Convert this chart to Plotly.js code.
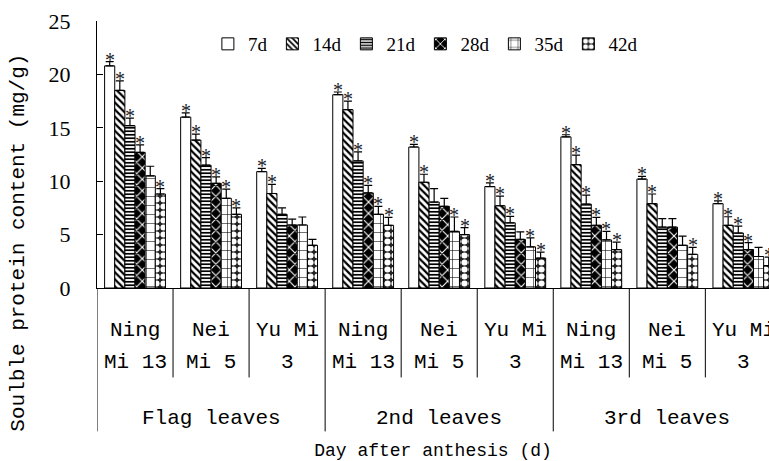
<!DOCTYPE html>
<html>
<head>
<meta charset="utf-8">
<script src="https://cdn.plot.ly/plotly-3.0.1.min.js"></script>
<style>html,body{margin:0;padding:0;background:#fff;}#chart{width:769px;height:461px;}</style>
</head>
<body>
<div id="chart"></div>
<script>
// Groups: leaf position x cultivar
const leafLabels = ['Flag leaves', '2nd leaves', '3rd leaves'];
const cultivarLine1 = ['Ning', 'Nei', 'Yu Mi'];
const cultivarLine2 = ['Mi 13', 'Mi 5', '3'];
const seriesNames = ['7d', '14d', '21d', '28d', '35d', '42d'];

// Soluble protein content (mg/g), 9 groups in order:
// Flag(NM13, NeM5, YM3), 2nd(NM13, NeM5, YM3), 3rd(NM13, NeM5, YM3)
const v7d  = [20.8, 16.0, 10.9, 18.1, 13.2, 9.5, 14.15, 10.2, 7.9];
const v14d = [18.5, 13.85, 8.85, 16.7, 9.9, 7.7, 11.55, 7.9, 5.87];
const v21d = [15.2, 11.5, 6.9, 11.9, 8.05, 6.1, 7.85, 5.7, 5.15];
const v28d = [12.7, 9.8, 5.9, 8.9, 7.65, 4.55, 5.87, 5.7, 3.6];
const v35d = [10.5, 8.4, 5.9, 6.9, 5.3, 3.85, 4.5, 4.0, 2.95];
const v42d = [8.8, 6.9, 4.0, 5.87, 5.0, 2.8, 3.6, 3.15, 2.1];

const e7d  = [0.4, 0.4, 0.3, 0.25, 0.25, 0.35, 0.2, 0.25, 0.25];
const e14d = [0.9, 0.55, 0.85, 0.8, 0.75, 0.9, 0.9, 0.9, 0.8];
const e21d = [0.7, 0.7, 0.6, 0.85, 1.25, 0.6, 0.85, 0.8, 0.65];
const e28d = [0.7, 0.6, 0.55, 0.7, 0.75, 0.7, 0.75, 0.8, 0.65];
const e35d = [0.9, 0.85, 0.75, 0.75, 1.35, 0.85, 0.8, 0.85, 0.85];
const e42d = [0.5, 0.6, 0.55, 0.75, 0.65, 0.55, 0.7, 0.65, 0.8];

// significance marks (1 = asterisk)
const s7d  = [1, 1, 1, 1, 1, 1, 1, 1, 1];
const s14d = [1, 1, 1, 1, 1, 1, 1, 1, 1];
const s21d = [1, 1, 0, 1, 0, 1, 1, 0, 1];
const s28d = [1, 1, 0, 1, 0, 0, 1, 0, 1];
const s35d = [0, 1, 0, 1, 1, 1, 1, 0, 0];
const s42d = [1, 1, 0, 1, 1, 1, 1, 1, 1];

const values = [v7d, v14d, v21d, v28d, v35d, v42d];
const errors = [e7d, e14d, e21d, e28d, e35d, e42d];
const sigs = [s7d, s14d, s21d, s28d, s35d, s42d];

const patterns = [
  null,
  {shape: '\\', fgcolor: '#000', bgcolor: '#fff', size: 5, solidity: 0.45},
  {shape: '-', fgcolor: '#000', bgcolor: '#fff', size: 3.5, solidity: 0.5},
  {shape: 'x', fgcolor: '#fff', bgcolor: '#000', size: 8, solidity: 0.25},
  {shape: '+', fgcolor: '#000', bgcolor: '#fff', size: 9, solidity: 0.12},
  {shape: '.', fgcolor: '#fff', bgcolor: '#222', size: 7, solidity: 0.6}
];

const nG = v7d.length;
const gx = v7d.map((_, i) => i);
const bargap = 0.2;
const bw = (1 - bargap) / seriesNames.length;

const traces = [];
seriesNames.forEach((name, k) => {
  const marker = {color: '#fff', line: {color: '#000', width: 1}};
  if (patterns[k]) marker.pattern = Object.assign({fillmode: 'replace'}, patterns[k]);
  traces.push({
    type: 'bar', name: name, x: gx, y: values[k], marker: marker,
    error_y: {type: 'data', array: errors[k], arrayminus: errors[k].map(() => 0),
      symmetric: false, color: '#000', thickness: 1.2, width: 4},
    hoverinfo: 'y'
  });
});

const shapes = [];
const annotations = [];
// significance asterisks above the error bars
seriesNames.forEach((name, k) => {
  sigs[k].forEach((s, i) => {
    if (s) annotations.push({xref: 'x', yref: 'y', x: gx[i] + (k - 2.5) * bw, y: values[k][i] + errors[k][i],
      text: '*', showarrow: false, yanchor: 'middle', yshift: 2,
      font: {family: 'Liberation Serif', size: 20, color: '#1a1a2a'}});
  });
});

const perLeaf = cultivarLine1.length;
const catFont = {family: 'Liberation Mono', size: 21, color: '#000'};
for (let i = 0; i < nG; i++) {
  const b = gx[i] - 0.5;
  const long = (i % perLeaf === 0);
  shapes.push({type: 'line', xref: 'x', yref: 'paper', x0: b, x1: b, y0: 0, y1: long ? -0.537 : -0.335,
    line: {color: '#000', width: 1}});
  annotations.push({xref: 'x', yref: 'paper', x: gx[i], y: -0.159, text: cultivarLine1[i % perLeaf],
    showarrow: false, yanchor: 'middle', font: catFont});
  annotations.push({xref: 'x', yref: 'paper', x: gx[i], y: -0.279, text: cultivarLine2[i % perLeaf],
    showarrow: false, yanchor: 'middle', font: catFont});
}
leafLabels.forEach((lab, j) => {
  annotations.push({xref: 'x', yref: 'paper', x: gx[j * perLeaf + 1], y: -0.487, text: lab,
    showarrow: false, yanchor: 'middle', font: catFont});
});
// y-axis title (placed lower than the plot centre, as in the reference)
annotations.push({xref: 'paper', yref: 'paper', x: -0.116, y: 0.17, textangle: -90,
  text: 'Soulble protein content (mg/g)', showarrow: false,
  xanchor: 'center', yanchor: 'middle', font: {family: 'Liberation Mono', size: 21, color: '#000'}});

const layout = {
  width: 769, height: 461,
  margin: {l: 97, r: 0, t: 21, b: 173},
  paper_bgcolor: '#fff', plot_bgcolor: '#fff',
  barmode: 'group', bargap: bargap, bargroupgap: 0,
  font: {family: 'Liberation Serif', color: '#000'},
  showlegend: true,
  legend: {orientation: 'h', x: 0.165, y: 0.985, xanchor: 'left', yanchor: 'top',
    font: {family: 'Liberation Serif', size: 19, color: '#000'}, bgcolor: 'rgba(0,0,0,0)',
    traceorder: 'normal'},
  xaxis: {range: [-0.5, 8.337], showticklabels: false, ticks: '', showgrid: false, zeroline: false,
    showline: true, linecolor: '#000', linewidth: 1, fixedrange: true,
    title: {text: 'Day after anthesis (d)', standoff: 156, font: {family: 'Liberation Mono', size: 18, color: '#000'}},
    automargin: false},
  yaxis: {range: [0, 25], dtick: 5, ticks: 'inside', ticklen: 6, tickcolor: '#000', showgrid: false,
    zeroline: false, showline: true, linecolor: '#000', linewidth: 1,
    tickfont: {family: 'Liberation Serif', size: 22, color: '#000'}, ticklabelstandoff: 21,
    automargin: false},
  shapes: shapes,
  annotations: annotations
};

Plotly.newPlot('chart', traces, layout, {displayModeBar: false, staticPlot: true});
</script>
</body>
</html>
